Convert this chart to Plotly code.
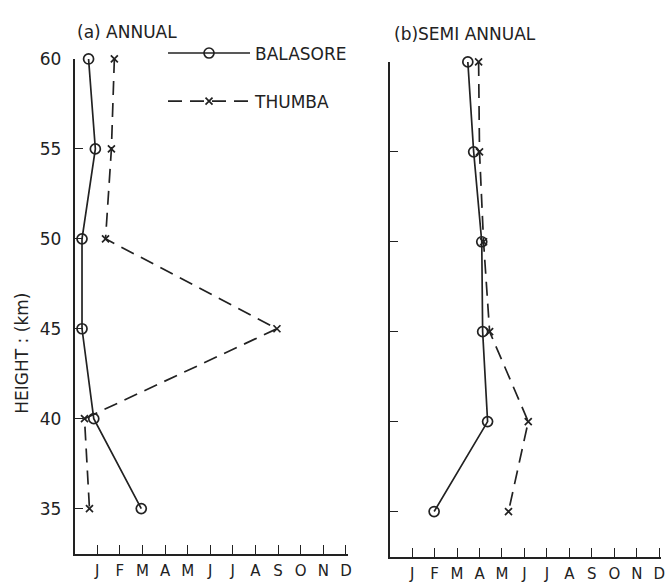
import plotly.graph_objects as go

heights = [60, 55, 50, 45, 40, 35]
month_ticks = [1, 2, 3, 4, 5, 6, 7, 8, 9, 10, 11, 12]
month_labels = ["J", "F", "M", "A", "M", "J", "J", "A", "S", "O", "N", "D"]
height_ticks = [35, 40, 45, 50, 55, 60]

annual_balasore = [0.62, 0.92, 0.33, 0.33, 0.85, 2.95]
annual_thumba = [1.76, 1.63, 1.37, 8.95, 0.44, 0.66]
semi_balasore = [3.48, 3.74, 4.10, 4.14, 4.36, 1.98]
semi_thumba = [3.96, 4.00, 4.18, 4.45, 6.17, 5.29]

INK = "#222222"
FONT = "DejaVu Sans"
W, H = 667, 583
XMAX = 12.1

fig = go.Figure()

circ = dict(symbol="circle-open", size=10, color=INK, line=dict(width=1.7, color=INK))
cross = dict(symbol="x-thin-open", size=7, color=INK, line=dict(width=1.7, color=INK))

fig.add_trace(go.Scatter(x=annual_balasore, y=heights, mode="lines+markers", name="BALASORE",
                         legendgroup="b",
                         line=dict(color=INK, width=1.7), marker=circ, cliponaxis=False,
                         xaxis="x", yaxis="y"))
fig.add_trace(go.Scatter(x=annual_thumba, y=heights, mode="lines+markers", name="THUMBA",
                         legendgroup="t",
                         line=dict(color=INK, width=1.7, dash="14px,8px"), marker=cross, cliponaxis=False,
                         xaxis="x", yaxis="y"))
fig.add_trace(go.Scatter(x=semi_balasore, y=heights, mode="lines+markers", name="BALASORE",
                         legendgroup="b", showlegend=False,
                         line=dict(color=INK, width=1.7), marker=circ, cliponaxis=False,
                         xaxis="x2", yaxis="y2"))
fig.add_trace(go.Scatter(x=semi_thumba, y=heights, mode="lines+markers", name="THUMBA",
                         legendgroup="t", showlegend=False,
                         line=dict(color=INK, width=1.7, dash="14px,8px"), marker=cross, cliponaxis=False,
                         xaxis="x2", yaxis="y2"))

xcommon = dict(range=[0, XMAX], tickmode="array", tickvals=month_ticks, ticktext=month_labels,
               ticks="inside", ticklen=9, tickwidth=1.4, tickcolor=INK,
               showline=True, linecolor=INK, linewidth=1.7, showgrid=False, zeroline=False,
               tickfont=dict(family=FONT, size=15, color=INK), ticklabelstandoff=3,
               fixedrange=True)
ycommon = dict(range=[32.5, 60], tickmode="array", tickvals=height_ticks,
               ticks="inside", ticklen=9, tickwidth=1.4, tickcolor=INK,
               showline=True, linecolor=INK, linewidth=1.7, showgrid=False, zeroline=False,
               tickfont=dict(family=FONT, size=17, color=INK), fixedrange=True)

fig.update_layout(
    width=W, height=H,
    margin=dict(l=0, r=0, t=0, b=0),
    paper_bgcolor="white", plot_bgcolor="white",
    xaxis=dict(xcommon, domain=[75 / W, (75 + XMAX * 22.75) / W], anchor="y"),
    yaxis=dict(ycommon, domain=[1 - 555 / H, 1 - 50 / H], anchor="x", ticklabelstandoff=8),
    xaxis2=dict(xcommon, domain=[392 / W, (392 + XMAX * 22.6) / W], anchor="y2"),
    yaxis2=dict(ycommon, domain=[1 - 558 / H, 1 - 53 / H], anchor="x2", showticklabels=False),
    showlegend=True,
    legend=dict(x=164 / W, y=1 - 26 / H, xanchor="left", yanchor="top",
                font=dict(family=FONT, size=17, color=INK), bgcolor="rgba(0,0,0,0)",
                itemwidth=82, tracegroupgap=23),
    annotations=[
        dict(text="(a) ANNUAL", x=75 / W, y=1 - 22 / H, xref="paper", yref="paper",
             xanchor="left", yanchor="middle", showarrow=False,
             font=dict(family=FONT, size=17, color=INK)),
        dict(text="(b)SEMI ANNUAL", x=394 / W, y=1 - 24 / H, xref="paper", yref="paper",
             xanchor="left", yanchor="middle", showarrow=False,
             font=dict(family=FONT, size=17, color=INK)),
        dict(text="HEIGHT : (km)", x=22 / W, y=1 - 350 / H, xref="paper", yref="paper",
             xanchor="center", yanchor="middle", showarrow=False, textangle=-90,
             font=dict(family=FONT, size=17, color=INK)),
    ],
)

fig.write_html("out.html")
